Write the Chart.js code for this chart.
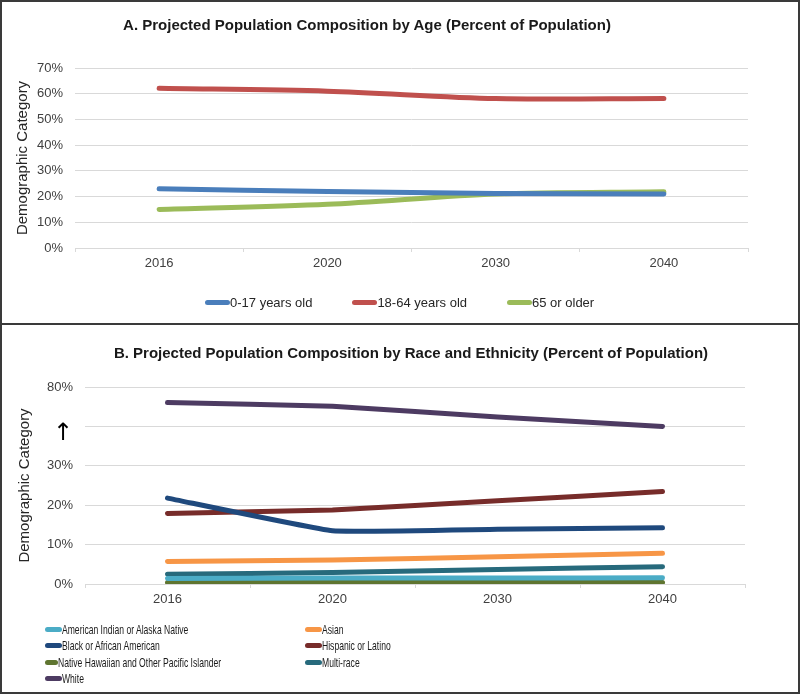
<!DOCTYPE html>
<html>
<head>
<meta charset="utf-8">
<script src="https://cdn.jsdelivr.net/npm/chart.js@4"></script>
<style>
  body { margin: 0; width: 800px; height: 696px; background: #fff; position: relative; overflow: hidden;
         font-family: "Liberation Sans", Arial, sans-serif; }
  .box { position: absolute; left: 0; width: 796px; border: 2px solid #3a3a3a; background: #fff; }
  .box canvas { position: absolute; left: 0; top: 0; }
  .title { position: absolute; text-align: center; font-weight: bold; font-size: 15px; color: #1a1a1a; }
  .legend-row { position: absolute; display: flex; align-items: center; gap: 40px; font-size: 13px; color: #262626; }
  .legend-grid { position: absolute; display: grid; grid-template-columns: 260px auto; grid-auto-rows: 16.5px;
                 font-size: 13px; color: #1a1a1a; }
  .item { display: flex; align-items: center; white-space: nowrap; }
  .swatch { display: inline-block; height: 5px; border-radius: 3px; }
  .narrow { display: inline-block; transform: scaleX(0.66); transform-origin: left center; }
</style>
</head>
<body>

<div class="box" id="box-a" style="top:0; height:321px;">
  <canvas id="age-chart" width="796" height="321"></canvas>
</div>
<div class="box" id="box-b" style="top:323px; height:367px;">
  <canvas id="race-chart" width="796" height="367"></canvas>
</div>

<div class="title" style="left:0; width:734px; top:16px;">A. Projected Population Composition by Age (Percent of Population)</div>
<div class="title" style="left:22px; width:778px; top:344px;">B. Projected Population Composition by Race and Ethnicity (Percent of Population)</div>

<div class="legend-row" id="age-legend" style="left:205px; top:295px;"></div>
<div class="legend-grid" id="race-legend" style="left:45px; top:621px;"></div>

<script>
const years = ['2016', '2020', '2030', '2040']

// A. age groups, percent of population
const age0to17 = [23.0, 22.0, 21.2, 21.0]
const age18to64 = [62.1, 61.0, 58.1, 58.1]
const age65plus = [15.0, 17.0, 21.0, 21.9]
const ageLabels = ['0-17 years old', '18-64 years old', '65 or older']

// B. race and ethnicity, percent of population
const amIndian = [1.4, 1.5, 1.5, 1.6]
const asian = [5.7, 6.1, 6.9, 7.8]
const black = [21.8, 13.5, 13.9, 14.3]
const hispanic = [17.9, 18.8, 21.1, 23.5]
const pacIslander = [0.4, 0.4, 0.4, 0.4]
const multiRace = [2.5, 2.9, 3.7, 4.4]
const white = [70.1, 67.8, 61.0, 55.0]
const raceLabels = ['American Indian or Alaska Native', 'Asian', 'Black or African American', 'Hispanic or Latino',
    'Native Hawaiian and Other Pacific Islander', 'Multi-race', 'White']

// broken y axis on chart B: 0-30% linear, then 30-80% squeezed into two grid steps
const raceTickLabels = ['0%', '10%', '20%', '30%', ['', '\u2191'], '80%']
const breakAt = 30
const squeeze = 0.4
const toAxis = v => v <= breakAt ? v : breakAt + (v - breakAt) * squeeze

const tickFont = { family: '"Liberation Sans", Arial, sans-serif', size: 13 }
const arrowFont = { family: '"DejaVu Sans", sans-serif', size: 24, lineHeight: 0.6 }
const titleFont = { family: '"Liberation Sans", Arial, sans-serif', size: 15 }
const gridColor = '#d9d9d9'
const textColor = '#404040'

function lineSet(label, data, color, tension) {
    return {
        label,
        data,
        borderColor: color,
        backgroundColor: color,
        borderWidth: 5,
        borderCapStyle: 'round',
        borderJoinStyle: 'round',
        pointRadius: 0,
        pointHoverRadius: 0,
        tension,
    }
}

function xScale() {
    return {
        offset: true,
        afterFit: s => { s.height = 30 },
        grid: { offset: true, drawOnChartArea: false, tickLength: 4, color: gridColor },
        border: { color: gridColor },
        ticks: { color: textColor, font: tickFont, padding: 4 },
    }
}

const ageChart = new Chart(document.getElementById('age-chart'), {
    type: 'line',
    data: {
        labels: years,
        datasets: [
            lineSet(ageLabels[0], age0to17, '#4a7ebb', 0.3),
            lineSet(ageLabels[1], age18to64, '#c0504d', 0.3),
            lineSet(ageLabels[2], age65plus, '#9bbb59', 0.3),
        ]
    },
    options: {
        responsive: false,
        animation: false,
        layout: { padding: { top: 66, right: 50, bottom: 45, left: 0 } },
        plugins: { legend: { display: false }, tooltip: { enabled: false } },
        scales: {
            x: xScale(),
            y: {
                min: 0,
                max: 70,
                afterFit: s => { s.width = 73 },
                grid: { color: gridColor, drawTicks: false },
                border: { display: false },
                ticks: { stepSize: 10, color: textColor, font: tickFont, padding: 12, callback: v => v + '%' },
                title: { display: true, text: 'Demographic Category', color: '#262626', font: titleFont, padding: { top: 12, bottom: 0 } },
            }
        }
    }
})

const raceColors = ['#4bacc6', '#f79646', '#1f497d', '#772c2a', '#5f7530', '#276a7c', '#4d3b62']
const raceSeries = [amIndian, asian, black, hispanic, pacIslander, multiRace, white]

const raceChart = new Chart(document.getElementById('race-chart'), {
    type: 'line',
    data: {
        labels: years,
        datasets: raceSeries.map((vals, i) => lineSet(raceLabels[i], vals.map(toAxis), raceColors[i], 0.1))
    },
    options: {
        responsive: false,
        animation: false,
        layout: { padding: { top: 62, right: 53, bottom: 78, left: 0 } },
        plugins: { legend: { display: false }, tooltip: { enabled: false } },
        scales: {
            x: xScale(),
            y: {
                min: 0,
                max: 50,
                afterFit: s => { s.width = 83 },
                grid: { color: gridColor, drawTicks: false },
                border: { display: false },
                ticks: {
                    stepSize: 10,
                    color: ctx => ctx.index === 4 ? '#000' : textColor,
                    font: ctx => ctx.index === 4 ? arrowFont : tickFont,
                    padding: 12,
                    callback: (v, i) => raceTickLabels[i],
                },
                title: { display: true, text: 'Demographic Category', color: '#262626', font: titleFont, padding: { top: 14, bottom: 0 } },
            }
        }
    }
})

function buildLegend(chart, el, swatchWidth, narrow) {
    chart.data.datasets.forEach(ds => {
        const item = document.createElement('div')
        item.className = 'item'
        const sw = document.createElement('span')
        sw.className = 'swatch'
        sw.style.width = swatchWidth + 'px'
        sw.style.background = ds.borderColor
        const txt = document.createElement('span')
        txt.textContent = ds.label
        if (narrow) txt.className = 'narrow'
        item.appendChild(sw)
        item.appendChild(txt)
        el.appendChild(item)
    })
}

buildLegend(ageChart, document.getElementById('age-legend'), 25, false)
buildLegend(raceChart, document.getElementById('race-legend'), 17, true)
</script>
</body>
</html>
